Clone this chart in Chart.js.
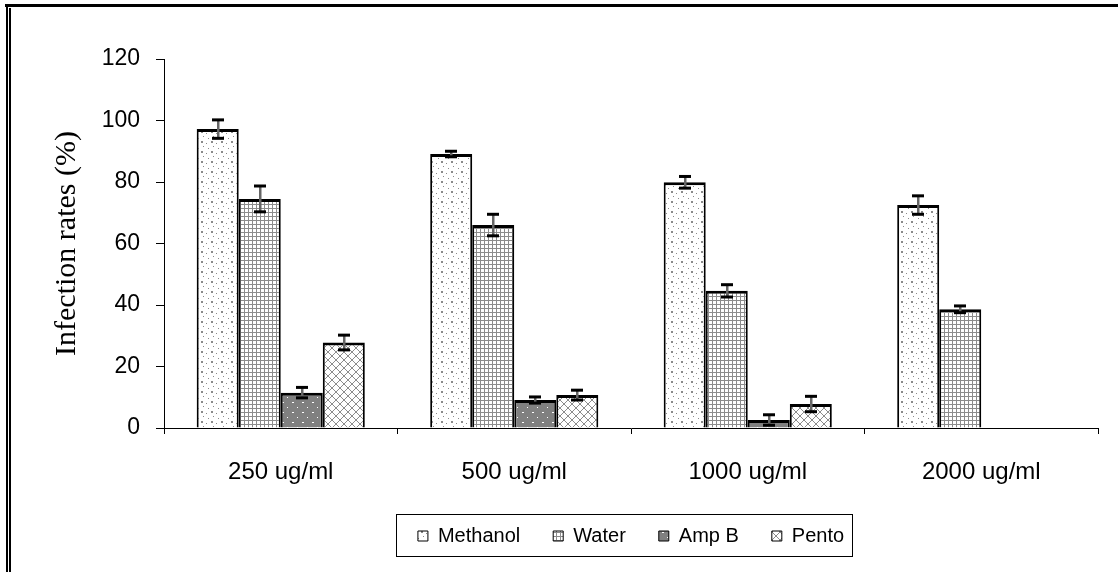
<!DOCTYPE html>
<html>
<head>
<meta charset="utf-8">
<script src="https://cdn.jsdelivr.net/npm/chart.js@4/dist/chart.umd.min.js"></script>
<style>
  html, body { margin: 0; padding: 0; background: #fff; }
  #wrap { width: 1118px; height: 572px; }
</style>
</head>
<body>
<div id="wrap"><canvas id="c" width="1118" height="572"></canvas></div>
<script>
// ---- data ----
const categories = ['250 ug/ml', '500 ug/ml', '1000 ug/ml', '2000 ug/ml'];
const seriesNames = ['Methanol', 'Water', 'Amp B', 'Pento'];
const methanol = [97.2, 89.1, 79.9, 72.5];
const methanolErr = [3.0, 0.9, 1.9, 3.0];
const water = [74.5, 66.0, 44.6, 38.6];
const waterErr = [4.2, 3.5, 2.0, 1.1];
const ampB = [11.5, 9.1, 2.6, null];
const ampBErr = [1.7, 1.0, 1.7, null];
const pento = [27.8, 10.7, 7.8, null];
const pentoErr = [2.4, 1.6, 2.5, null];
const yTicks = [0, 20, 40, 60, 80, 100, 120];

// ---- patterns ----
function makePattern(w, h, draw) {
  const c = document.createElement('canvas');
  c.width = w; c.height = h;
  const g = c.getContext('2d');
  draw(g, w, h);
  return g.createPattern(c, 'repeat');
}
const patMethanol = makePattern(10, 10, (g) => {
  g.fillStyle = '#fff'; g.fillRect(0, 0, 10, 10);
  g.fillStyle = '#8a8a8a';
  g.fillRect(1, 1, 2, 2);
  g.fillRect(6, 3, 1, 1);
  g.fillRect(3, 6, 1, 1);
  g.fillRect(8, 8, 1, 1);
});
const patWater = makePattern(4, 4, (g) => {
  g.fillStyle = '#fff'; g.fillRect(0, 0, 4, 4);
  g.fillStyle = '#8c8c8c';
  g.fillRect(0, 0, 4, 1);
  g.fillRect(0, 0, 1, 4);
});
const patAmp = makePattern(10, 10, (g) => {
  g.fillStyle = '#808080'; g.fillRect(0, 0, 10, 10);
  g.fillStyle = '#fff';
  g.fillRect(2, 2, 2, 1);
  g.fillRect(7, 7, 1, 1);
});
const patPento = makePattern(8, 8, (g) => {
  g.fillStyle = '#fff'; g.fillRect(0, 0, 8, 8);
  g.strokeStyle = '#8c8c8c'; g.lineWidth = 1;
  g.beginPath();
  g.moveTo(0, 0); g.lineTo(8, 8);
  g.moveTo(8, 0); g.lineTo(0, 8);
  g.stroke();
});

const errors = [methanolErr, waterErr, ampBErr, pentoErr];
const fills = [patMethanol, patWater, patAmp, patPento];
const values = [methanol, water, ampB, pento];

const datasets = values.map((v, i) => ({
  label: seriesNames[i],
  data: v,
  backgroundColor: fills[i],
  borderColor: '#000',
  borderWidth: { top: 3, left: 2, right: 2, bottom: 0 },
  borderSkipped: 'start'
}));

// ---- plugins ----
const framePlugin = {
  id: 'frame',
  beforeDraw(chart) {
    const c = chart.ctx;
    c.save();
    c.fillStyle = '#fff';
    c.fillRect(0, 0, chart.width, chart.height);
    c.fillStyle = '#000';
    c.fillRect(5, 4, chart.width - 5, 3);   // top line
    c.fillRect(6, 4, 2, chart.height - 4);  // outer left line
    c.fillRect(9, 8, 2, chart.height - 8);  // inner left line
    c.restore();
  }
};

const errorBarPlugin = {
  id: 'errbars',
  afterDatasetsDraw(chart) {
    const c = chart.ctx;
    const ys = chart.scales.y;
    c.save();
    chart.data.datasets.forEach((ds, di) => {
      const meta = chart.getDatasetMeta(di);
      meta.data.forEach((bar, i) => {
        const v = ds.data[i];
        const e = errors[di][i];
        if (v == null || e == null) return;
        const x = Math.round(bar.x);
        const yTop = ys.getPixelForValue(v + e);
        const yBot = ys.getPixelForValue(v - e);
        c.fillStyle = '#666';
        c.fillRect(x - 1, yTop, 2.5, yBot - yTop);
        c.fillStyle = '#000';
        c.fillRect(x - 6, yTop - 1.5, 12, 3);
        c.fillRect(x - 6, yBot - 1.5, 12, 3);
      });
    });
    c.restore();
  }
};

const legendBoxPlugin = {
  id: 'legendBox',
  afterDraw(chart) {
    const lg = chart.legend;
    if (!lg || !lg.legendHitBoxes || !lg.legendHitBoxes.length) return;
    const hb = lg.legendHitBoxes;
    let l = Infinity, r = -Infinity, t = Infinity, b = -Infinity;
    hb.forEach(h => {
      l = Math.min(l, h.left); r = Math.max(r, h.left + h.width);
      t = Math.min(t, h.top); b = Math.max(b, h.top + h.height);
    });
    const c = chart.ctx;
    c.save();
    c.strokeStyle = '#000';
    c.lineWidth = 1;
    c.strokeRect(Math.round(l - 22) + 0.5, Math.round(t - 12) + 0.5, Math.round(r - l + 30), Math.round(b - t + 22));
    c.restore();
  }
};

new Chart(document.getElementById('c'), {
  type: 'bar',
  data: { labels: categories, datasets },
  plugins: [framePlugin, errorBarPlugin, legendBoxPlugin],
  options: {
    responsive: false,
    animation: false,
    devicePixelRatio: 1,
    layout: { padding: { top: 59, right: 20, bottom: 16, left: 0 } },
    datasets: { bar: { categoryPercentage: 0.72, barPercentage: 1.0 } },
    plugins: {
      tooltip: { enabled: false },
      legend: {
        position: 'bottom',
        fullSize: false,
        labels: {
          color: '#000',
          font: { family: 'Liberation Sans, Arial, sans-serif', size: 20 },
          boxWidth: 10,
          boxHeight: 10,
          padding: 33,
          generateLabels(chart) {
            return chart.data.datasets.map((ds, i) => ({
              text: ds.label,
              fillStyle: ds.backgroundColor,
              strokeStyle: '#000',
              lineWidth: 1,
              hidden: false,
              datasetIndex: i,
              fontColor: '#000'
            }));
          }
        }
      }
    },
    scales: {
      x: {
        grid: { display: true, drawOnChartArea: false, drawTicks: true, tickLength: 6, color: '#000', offset: true },
        border: { display: true, color: '#000', width: 1 },
        ticks: { color: '#000', padding: 24, font: { family: 'Liberation Sans, Arial, sans-serif', size: 24 }, maxRotation: 0 },
        afterFit(scale) { scale.height = 65; }
      },
      y: {
        min: 0, max: 120,
        afterBuildTicks(scale) { scale.ticks = yTicks.map(v => ({ value: v })); },
        grid: { display: true, drawOnChartArea: false, drawTicks: true, tickLength: 8, color: '#000' },
        border: { display: true, color: '#000', width: 1 },
        ticks: { color: '#000', padding: 16, font: { family: 'Liberation Sans, Arial, sans-serif', size: 23 } },
        title: {
          display: true,
          text: 'Infection rates (%)',
          color: '#000',
          font: { family: 'Liberation Serif, Times New Roman, serif', size: 30 },
          padding: { top: 49, bottom: 0 }
        },
        afterFit(scale) { scale.width = 164; }
      }
    }
  }
});
</script>
</body>
</html>
